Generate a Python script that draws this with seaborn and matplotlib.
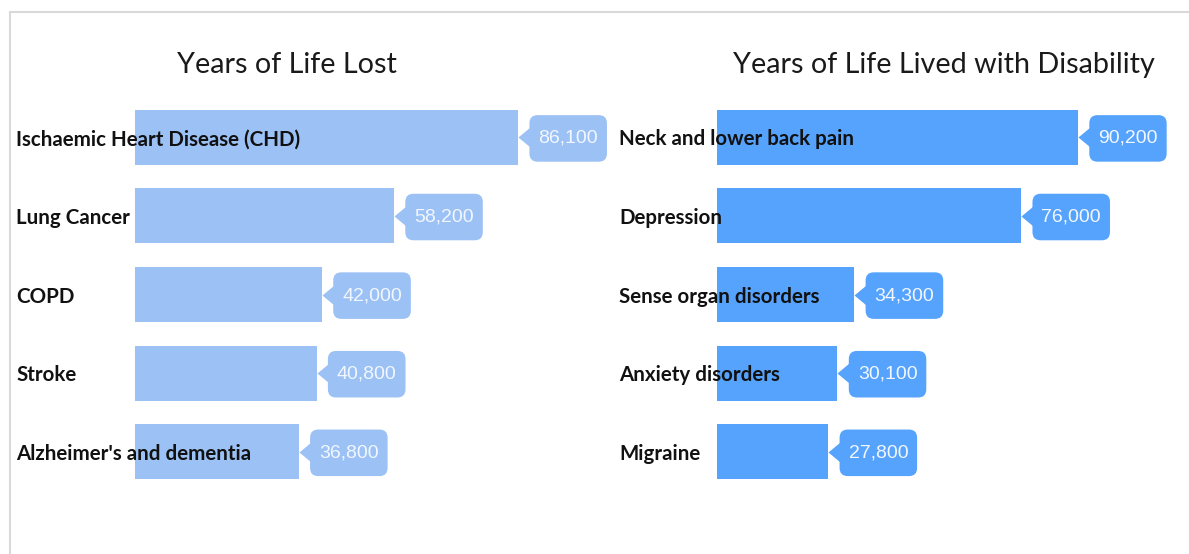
import matplotlib
matplotlib.use("Agg")
import matplotlib.pyplot as plt
import matplotlib.patches as mpatches
import matplotlib.transforms as mtransforms
import seaborn as sns

# data
yll_causes = ["Ischaemic Heart Disease (CHD)", "Lung Cancer", "COPD", "Stroke",
              "Alzheimer's and dementia"]
yll_values = [86100, 58200, 42000, 40800, 36800]

yld_causes = ["Neck and lower back pain", "Depression", "Sense organ disorders",
              "Anxiety disorders", "Migraine"]
yld_values = [90200, 76000, 34300, 30100, 27800]

titles = ["Years of Life Lost", "Years of Life Lived with Disability"]

# styling
YLL_COLOR = "#9bc1f5"
YLD_COLOR = "#56a3fd"
W, H = 1189, 554


class CalloutBox(mpatches.BoxStyle.Round):
    """Rounded box with a bit more padding top and bottom."""
    def __init__(self, pad=0.46, rounding_size=0.42, extra_y=0.3):
        super().__init__(pad=pad, rounding_size=rounding_size)
        self.extra_y = extra_y

    def __call__(self, x0, y0, width, height, mutation_size):
        e = self.extra_y * mutation_size
        return super().__call__(x0, y0 - e, width, height + 2 * e, mutation_size)


fig = plt.figure(figsize=(W / 100, H / 100), dpi=100)

# light frame around the chart area (top and left edges visible)
fig.patches.append(mpatches.Rectangle((10 / W, -0.1), 1.2, 1.1 - 12 / H,
                                      transform=fig.transFigure, fill=False,
                                      edgecolor="#d9d9d9", linewidth=1.5))

# per panel: causes, values, colour, axes left px, axes right px, xmax, label x px, title x px
panels = [
    (yll_causes, yll_values, YLL_COLOR, 135, 620, 109000, 16, 287),
    (yld_causes, yld_values, YLD_COLOR, 717, 1180, 115700, 619, 944),
]

ax_top, ax_bot = 98, 491
arrow = [(0, 0), (1.2, 1), (1.2, -1)]

for (causes, values, color, x0, x1, xmax, lab_x, title_x), title in zip(panels, titles):
    ax = fig.add_axes([x0 / W, 1 - ax_bot / H, (x1 - x0) / W, (ax_bot - ax_top) / H])
    sns.barplot(x=values, y=causes, orient="h", color=color, width=0.7,
                saturation=1, linewidth=0, ax=ax)
    ax.set_xlim(0, xmax)
    ax.set_ylim(len(causes) - 0.5, -0.5)
    ax.set_axis_off()

    # category labels drawn on top of bars, aligned at a fixed figure x
    trans = mtransforms.blended_transform_factory(fig.transFigure, ax.transData)
    for i, name in enumerate(causes):
        ax.text(lab_x / W, i, name, transform=trans, ha="left", va="center_baseline",
                fontsize=14.8, fontweight="bold", family="Lato", color="#111111",
                zorder=5, clip_on=False)

    # value callouts
    for i, v in enumerate(values):
        ax.plot(v, i, marker=arrow, markersize=19, color=color,
                markeredgewidth=0, zorder=3, clip_on=False)
        ax.annotate(f"{v:,}", xy=(v, i), xytext=(14.6, -0.8), textcoords="offset points",
                    ha="left", va="center", fontsize=14, family="Liberation Sans",
                    color="#f2f7ff", zorder=4, annotation_clip=False,
                    bbox=dict(boxstyle=CalloutBox(), fc=color, ec="none"))

    fig.text(title_x / W, 1 - 73 / H, title, ha="center", va="baseline",
             fontsize=20.7, family="Lato", color="#1a1a1a")

fig.savefig("out.png", dpi=100)
